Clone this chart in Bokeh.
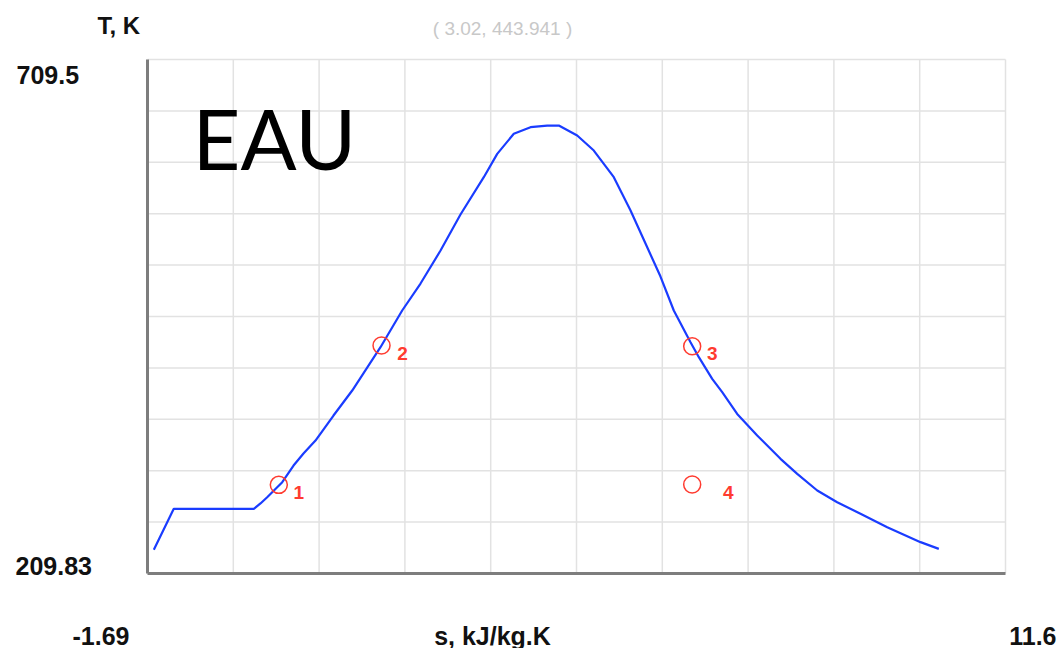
import numpy as np
from bokeh.plotting import figure
from bokeh.models import Label, Range1d, ColumnDataSource
from bokeh.core.properties import value
from bokeh.embed import file_html
from bokeh.resources import INLINE

# ---------------- data ----------------
X_MIN, X_MAX = -1.69, 11.6
Y_MIN, Y_MAX = 209.83, 709.5

x_title = "s, kJ/kg.K"
y_title = "T, K"
chart_title = "EAU"
cursor_text = "( 3.02, 443.941 )"

# saturation / phase boundary curve (entropy s, temperature T)
s_sat = [-1.592, -1.283, -0.043, 0.060, 0.164, 0.397, 0.572, 0.726, 0.912, 1.191,
         1.481, 1.919, 2.255, 2.539, 2.849, 3.158, 3.519, 3.727, 3.984, 4.243,
         4.501, 4.681, 4.966, 5.223, 5.533, 5.792, 6.024, 6.256, 6.462, 6.721,
         6.850, 7.057, 7.212, 7.444, 7.754, 8.115, 8.374, 8.684, 8.993, 9.354,
         9.768, 10.284, 10.567]
T_sat = [232.9, 272.7, 272.7, 277.9, 284.0, 298.6, 314.8, 326.5, 339.1, 363.4,
         387.7, 429.8, 465.5, 491.7, 523.8, 558.8, 595.1, 617.8, 637.3, 643.7,
         645.3, 645.3, 635.6, 621.0, 595.1, 562.7, 530.6, 498.5, 465.5, 434.7,
         420.1, 399.1, 386.1, 365.0, 344.0, 321.3, 306.7, 290.5, 279.1, 267.9,
         254.8, 240.3, 233.8]

# cycle state points
cycle_s = [0.344, 1.935, 6.747, 6.747]
cycle_T = [296.0, 431.5, 430.8, 296.3]
cycle_labels = ["1", "2", "3", "4"]

# ---------------- layout ----------------
W, H = 1058, 648
L, T = 147, 59          # plot area left / top (px)
FW, FH = 858, 514       # plot area size (px)

def px2x(px):
    return X_MIN + (px - L) / FW * (X_MAX - X_MIN)

def py2y(py):
    return Y_MAX - (py - T) / FH * (Y_MAX - Y_MIN)

p = figure(width=W, height=H, min_border=0,
           x_axis_type=None, y_axis_type=None,
           x_range=Range1d(px2x(0), px2x(W)), y_range=Range1d(py2y(H), py2y(0)),
           output_backend="svg", toolbar_location=None)
p.background_fill_color = "white"
p.border_fill_color = "white"
p.outline_line_color = None

# grid (10 x 10 divisions, including the top and right edges)
xt = list(np.linspace(X_MIN, X_MAX, 11)[1:])
yt = list(np.linspace(Y_MIN, Y_MAX, 11)[1:])
GRID = "#e2e2e2"
p.segment(x0=xt, y0=[Y_MIN] * len(xt), x1=xt, y1=[Y_MAX] * len(xt),
          line_color=GRID, line_width=1.5)
p.segment(x0=[X_MIN] * len(yt), y0=yt, x1=[X_MAX] * len(yt), y1=yt,
          line_color=GRID, line_width=1.5)

# axis lines (left and bottom)
p.segment(x0=[X_MIN, X_MIN], y0=[Y_MIN, Y_MIN], x1=[X_MIN, X_MAX], y1=[Y_MAX, Y_MIN],
          line_color="#7d7d7d", line_width=3)

# curve
p.line(s_sat, T_sat, line_color="#1a3cff", line_width=2.2)

# cycle points
src = ColumnDataSource(dict(s=cycle_s, T=cycle_T, lab=cycle_labels,
                            xo=[20, 21, 20, 36], yo=[8, 8, 7, 8]))
p.scatter("s", "T", source=src, marker="circle", size=17, fill_color=None,
          line_color="#ff3b30", line_width=1.5)
p.text("s", "T", text="lab", source=src, x_offset="xo", y_offset="yo",
       text_color="#ff3b30", text_font=value("Liberation Sans"),
       text_font_style="bold", text_font_size="19px",
       text_align="center", text_baseline="middle")

BOLD = "Liberation Sans"

def lab(txt, px, py, size, align="left", style="bold", color="#111111",
        font=BOLD):
    p.add_layout(Label(x=px2x(px), y=py2y(py), text=txt, text_font=font,
                       text_font_size=size, text_font_style=style,
                       text_color=color, text_align=align,
                       text_baseline="middle"))

lab(y_title, 97, 25, "24px")
lab(f"{Y_MAX}", 16, 74, "25px")
lab(f"{Y_MIN}", 15, 565, "25px")
lab(f"{X_MIN}", 72, 635, "25px")
lab(x_title, 492, 635, "25px", align="center")
lab(f"{X_MAX}", 1056, 635, "25px", align="right")
lab(cursor_text, 502, 28, "19px", align="center", style="normal",
    color="#c8c8c8")
lab(chart_title, 192, 137, "83px", style="normal", color="#000000", font="Lato")

open("out.html", "w").write(file_html(p, INLINE))
